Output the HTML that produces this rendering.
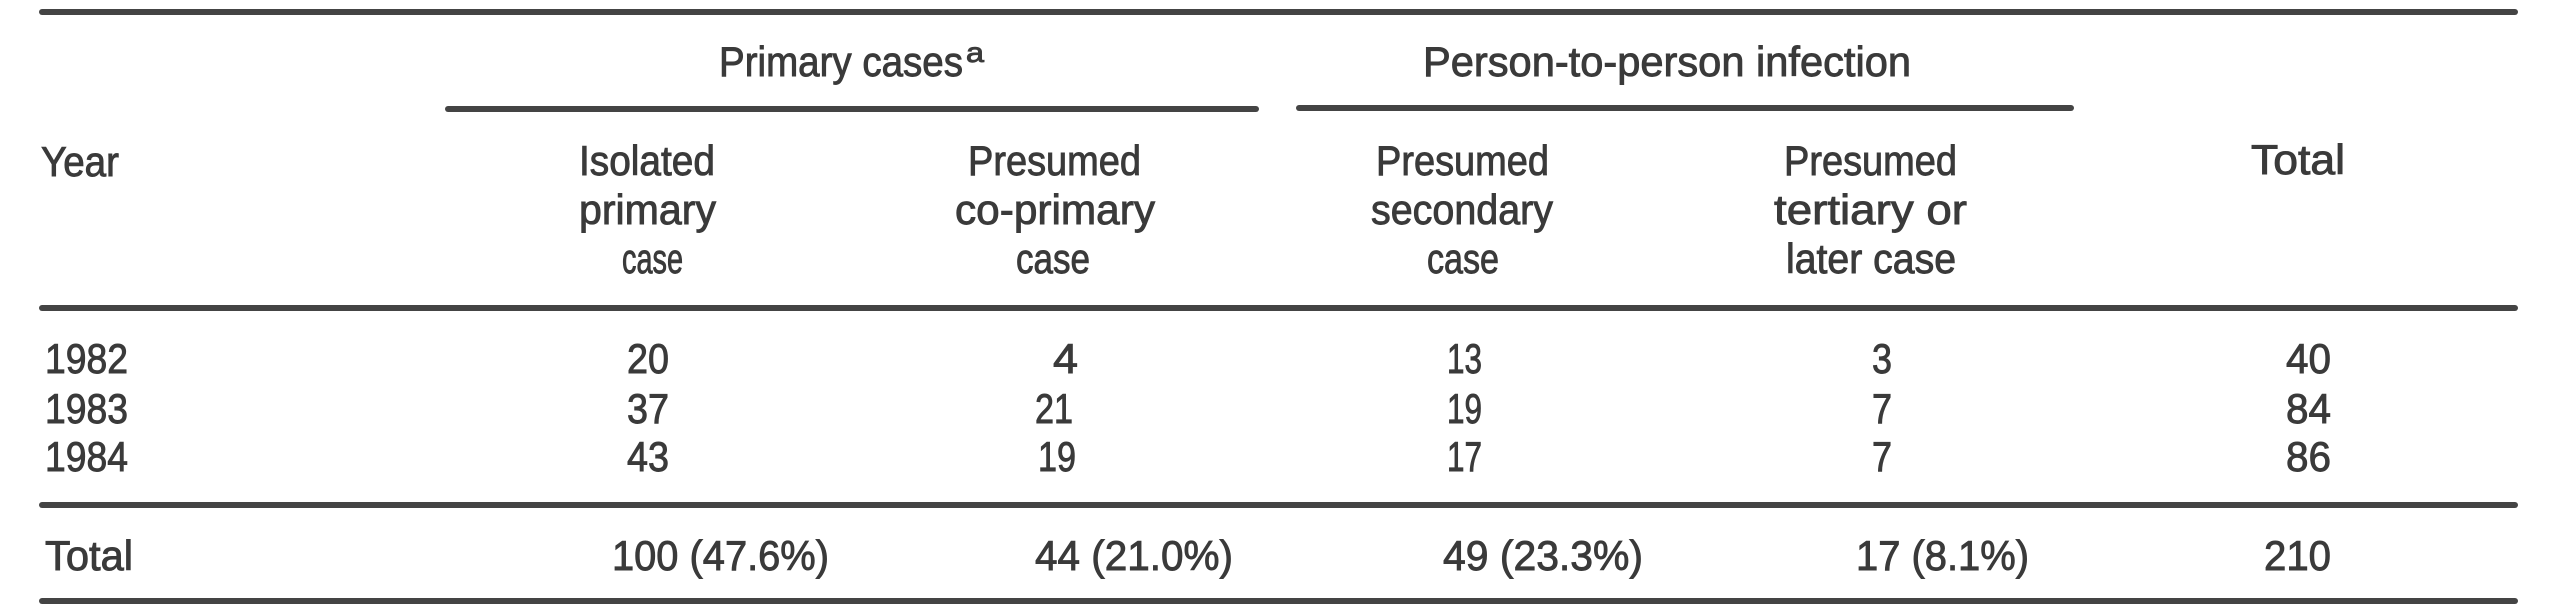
<!DOCTYPE html>
<html>
<head>
<meta charset="utf-8">
<style>
  html, body { margin: 0; padding: 0; background: #ffffff; }
  body { width: 2560px; height: 615px; overflow: hidden; }
  svg { display: block; }
  text { font-family: "Liberation Sans", "DejaVu Sans", sans-serif; font-size: 42px; fill: #3a3a3a; stroke: #3a3a3a; stroke-width: 0.9px; }
</style>
</head>
<body>
<svg width="2560" height="615" viewBox="0 0 2560 615" xmlns="http://www.w3.org/2000/svg">
  <rect x="0" y="0" width="2560" height="615" fill="#ffffff"/>

  <!-- rules -->
  <rect x="39" y="9" width="2479" height="6" rx="3" fill="#444444"/>
  <rect x="445" y="106" width="814" height="6" rx="3" fill="#444444"/>
  <rect x="1296" y="105" width="778" height="6" rx="3" fill="#444444"/>
  <rect x="39" y="305" width="2479" height="6" rx="3" fill="#444444"/>
  <rect x="39" y="502" width="2479" height="6" rx="3" fill="#444444"/>
  <rect x="39" y="598" width="2479" height="6" rx="3" fill="#444444"/>

  <!-- group headers -->
  <text x="719" y="76" textLength="244" lengthAdjust="spacingAndGlyphs">Primary cases</text>
  <text x="966" y="62" style="font-size:28px" textLength="18" lengthAdjust="spacingAndGlyphs">a</text>
  <text x="1423" y="76" textLength="488" lengthAdjust="spacingAndGlyphs">Person-to-person infection</text>

  <!-- column headers -->
  <text x="41" y="176" textLength="78" lengthAdjust="spacingAndGlyphs">Year</text>

  <text x="579" y="175" textLength="136" lengthAdjust="spacingAndGlyphs">Isolated</text>
  <text x="579" y="224" textLength="137" lengthAdjust="spacingAndGlyphs">primary</text>
  <text x="622" y="273" textLength="61" lengthAdjust="spacingAndGlyphs">case</text>

  <text x="968" y="175" textLength="173" lengthAdjust="spacingAndGlyphs">Presumed</text>
  <text x="955" y="224" textLength="200" lengthAdjust="spacingAndGlyphs">co-primary</text>
  <text x="1016" y="273" textLength="74" lengthAdjust="spacingAndGlyphs">case</text>

  <text x="1376" y="175" textLength="173" lengthAdjust="spacingAndGlyphs">Presumed</text>
  <text x="1371" y="224" textLength="182" lengthAdjust="spacingAndGlyphs">secondary</text>
  <text x="1427" y="273" textLength="72" lengthAdjust="spacingAndGlyphs">case</text>

  <text x="1784" y="175" textLength="173" lengthAdjust="spacingAndGlyphs">Presumed</text>
  <text x="1774" y="224" textLength="193" lengthAdjust="spacingAndGlyphs">tertiary or</text>
  <text x="1786" y="273" textLength="170" lengthAdjust="spacingAndGlyphs">later case</text>

  <text x="2251" y="174" textLength="94" lengthAdjust="spacingAndGlyphs">Total</text>

  <!-- data rows -->
  <text x="45" y="373" textLength="83" lengthAdjust="spacingAndGlyphs">1982</text>
  <text x="45" y="423" textLength="83" lengthAdjust="spacingAndGlyphs">1983</text>
  <text x="45" y="471" textLength="83" lengthAdjust="spacingAndGlyphs">1984</text>

  <text x="627" y="373" textLength="42" lengthAdjust="spacingAndGlyphs">20</text>
  <text x="627" y="423" textLength="42" lengthAdjust="spacingAndGlyphs">37</text>
  <text x="627" y="471" textLength="42" lengthAdjust="spacingAndGlyphs">43</text>

  <text x="1053" y="373" textLength="25" lengthAdjust="spacingAndGlyphs">4</text>
  <text x="1035" y="423" textLength="38" lengthAdjust="spacingAndGlyphs">21</text>
  <text x="1038" y="471" textLength="38" lengthAdjust="spacingAndGlyphs">19</text>

  <text x="1447" y="373" textLength="35" lengthAdjust="spacingAndGlyphs">13</text>
  <text x="1447" y="423" textLength="35" lengthAdjust="spacingAndGlyphs">19</text>
  <text x="1447" y="471" textLength="35" lengthAdjust="spacingAndGlyphs">17</text>

  <text x="1872" y="373" textLength="20" lengthAdjust="spacingAndGlyphs">3</text>
  <text x="1872" y="423" textLength="20" lengthAdjust="spacingAndGlyphs">7</text>
  <text x="1872" y="471" textLength="20" lengthAdjust="spacingAndGlyphs">7</text>

  <text x="2286" y="373" textLength="45" lengthAdjust="spacingAndGlyphs">40</text>
  <text x="2286" y="423" textLength="45" lengthAdjust="spacingAndGlyphs">84</text>
  <text x="2286" y="471" textLength="45" lengthAdjust="spacingAndGlyphs">86</text>

  <!-- total row -->
  <text x="45" y="570" textLength="88" lengthAdjust="spacingAndGlyphs">Total</text>
  <text x="612" y="570" textLength="217" lengthAdjust="spacingAndGlyphs">100 (47.6%)</text>
  <text x="1035" y="570" textLength="198" lengthAdjust="spacingAndGlyphs">44 (21.0%)</text>
  <text x="1443" y="570" textLength="200" lengthAdjust="spacingAndGlyphs">49 (23.3%)</text>
  <text x="1856" y="570" textLength="173" lengthAdjust="spacingAndGlyphs">17 (8.1%)</text>
  <text x="2264" y="570" textLength="67" lengthAdjust="spacingAndGlyphs">210</text>
</svg>
</body>
</html>
